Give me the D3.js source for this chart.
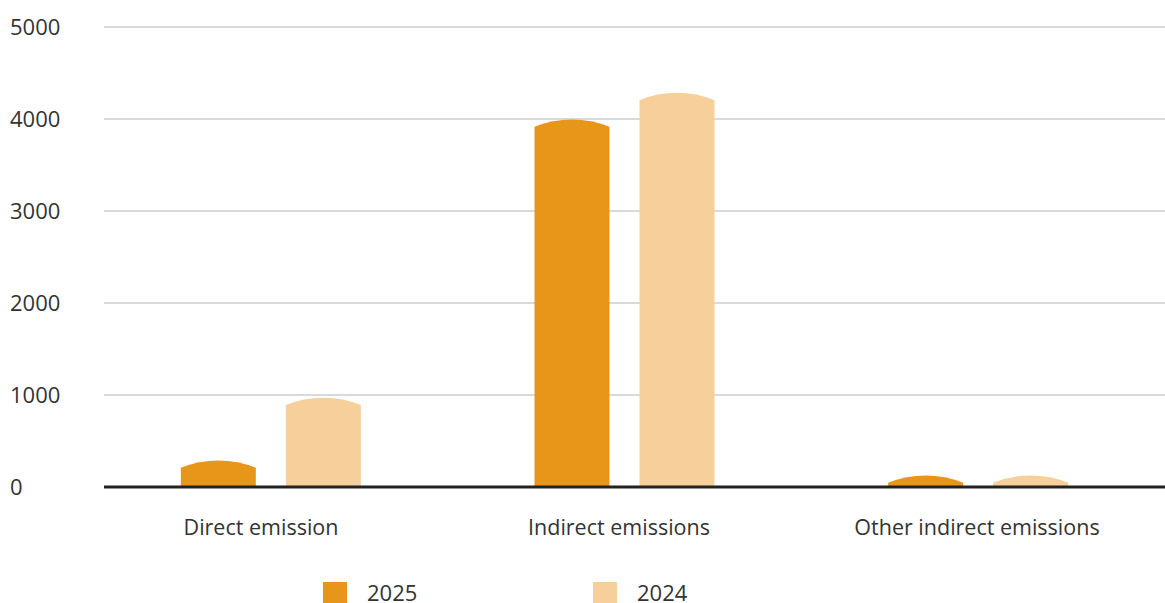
<!DOCTYPE html>
<html>
<head>
<meta charset="utf-8">
<script src="https://cdn.jsdelivr.net/npm/d3@7"></script>
<style>
  html, body { margin: 0; padding: 0; background: #fff; }
  svg { display: block; font-family: "Open Sans", "Noto Sans", sans-serif; }
</style>
</head>
<body>
<svg id="chart" width="1165" height="603"></svg>
<script>
// Emission totals by scope, two reporting years
const categories = ["Direct emission", "Indirect emissions", "Other indirect emissions"];
const seriesNames = ["2025", "2024"];
const values2025 = [210, 3915, 47];
const values2024 = [890, 4205, 47];
const yTicks = [0, 1000, 2000, 3000, 4000, 5000];
const colors = ["#E8961A", "#F6CF9A"];

const svg = d3.select("#chart");
const W = 1165;

const y = d3.scaleLinear().domain([0, 5000]).range([487, 27]);
const x = d3.scaleBand().domain(categories).range([94, 1155]).paddingInner(0).paddingOuter(0);
// category labels sit on a slightly wider band
const xLabel = d3.scaleBand().domain(categories).range([82, 1156]);

const barW = 75, gap = 30;
const xSeries = d3.scaleOrdinal().domain(seriesNames).range([-gap / 2 - barW, gap / 2]);

// gridlines
svg.append("g").selectAll("line")
  .data(yTicks.filter(d => d !== 0))
  .join("line")
  .attr("x1", 104).attr("x2", W)
  .attr("y1", d => y(d)).attr("y2", d => y(d))
  .attr("stroke", "#b3b3b3").attr("stroke-width", 1);

// tick labels
svg.append("g").selectAll("text")
  .data(yTicks)
  .join("text")
  .attr("x", 10).attr("y", d => y(d))
  .attr("dy", "0.36em")
  .attr("font-size", 22)
  .attr("fill", "#333")
  .text(d => d);

// bars with a rounded cap
const capH = 7.3;
const rows = [];
categories.forEach((c, i) => {
  rows.push({ cat: c, s: "2025", v: values2025[i] });
  rows.push({ cat: c, s: "2024", v: values2024[i] });
});
function barPath(d) {
  const x0 = x(d.cat) + x.bandwidth() / 2 + xSeries(d.s);
  const x1 = x0 + barW;
  const top = y(d.v), base = y(0);
  const half = barW / 2;
  const r = (half * half + capH * capH) / (2 * capH);
  return `M${x0},${base}L${x0},${top}A${r},${r} 0 0 1 ${x1},${top}L${x1},${base}Z`;
}
svg.append("g").selectAll("path")
  .data(rows)
  .join("path")
  .attr("d", barPath)
  .attr("fill", d => colors[seriesNames.indexOf(d.s)]);

// baseline
svg.append("line")
  .attr("x1", 104).attr("x2", W)
  .attr("y1", y(0)).attr("y2", y(0))
  .attr("stroke", "#222").attr("stroke-width", 3);

// category labels
svg.append("g").selectAll("text")
  .data(categories)
  .join("text")
  .attr("x", d => xLabel(d) + xLabel.bandwidth() / 2)
  .attr("y", 535)
  .attr("text-anchor", "middle")
  .attr("font-size", 21.5)
  .attr("fill", "#333")
  .text(d => d);

// legend
const legendX = [323, 593];
const lg = svg.append("g").selectAll("g")
  .data(seriesNames)
  .join("g")
  .attr("transform", (d, i) => `translate(${legendX[i]},582)`);
lg.append("rect").attr("width", 24).attr("height", 21).attr("fill", (d, i) => colors[i]);
lg.append("text").attr("x", 44).attr("y", 18.5)
  .attr("font-size", 22).attr("fill", "#333").text(d => d);
</script>
</body>
</html>
